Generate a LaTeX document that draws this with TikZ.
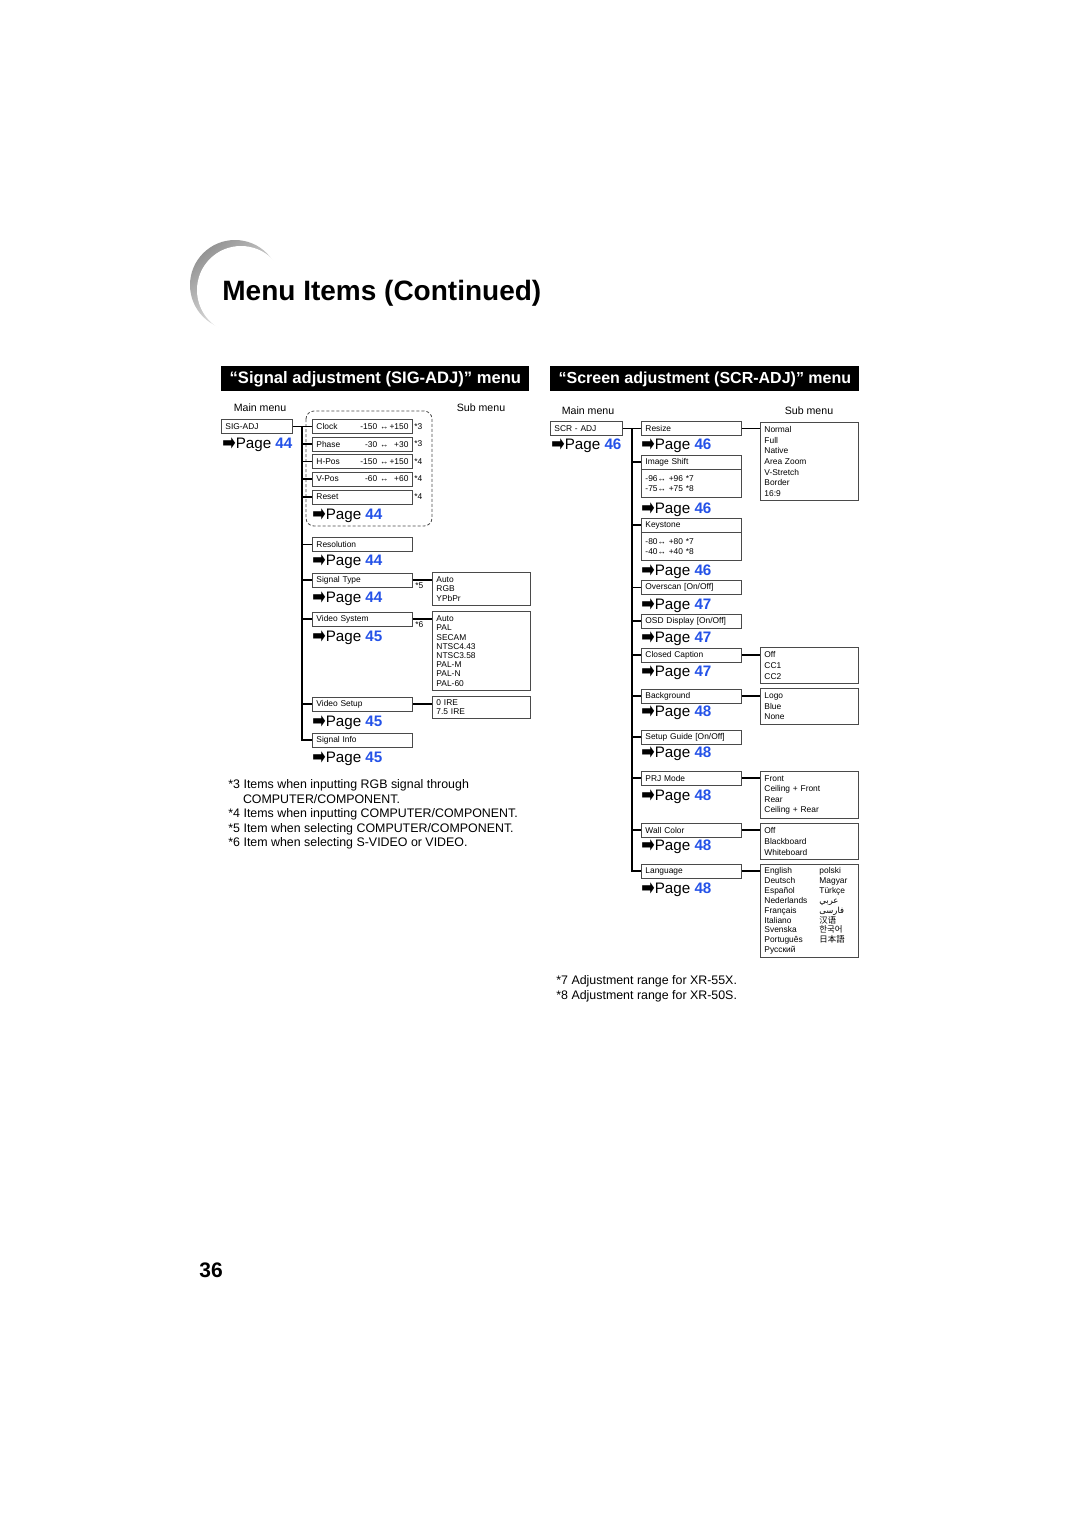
\documentclass[tikz,border=0pt]{standalone}
\usepackage{fontspec}
\setmainfont{Liberation Sans}
\newfontfamily\arrowfont{DejaVu Sans}
\newfontfamily\arabicfont[Script=Arabic]{DejaVu Sans}
\newfontfamily\cjksc{Noto Sans CJK SC}
\newfontfamily\cjkkr{Noto Sans CJK KR}
\newfontfamily\cjkjp{Noto Sans CJK JP}
\TeXXeTstate=1
\usetikzlibrary{positioning}

\definecolor{pageblue}{HTML}{2452E8}
\definecolor{boxline}{HTML}{4A4A4A}

\newcommand{\boxfont}{\fontsize{4.2}{4.6}\selectfont}
\newcommand{\gopage}[1]{{\arrowfont\raisebox{-1.1pt}{\scalebox{1.05}[1.5]{➡}}}Page \textcolor{pageblue}{\textbf{#1}}}
\newcommand{\range}[2]{#1 ↔\makebox[10pt][r]{#2}}

\begin{document}
\begin{tikzpicture}[
			x=0.5pt, y=-0.5pt,
			node distance=0pt,
			item/.style={
					draw=boxline,
					line width=0.45pt,
					minimum height=7pt,
					text width=46pt,
					inner xsep=2pt,
					inner ysep=0pt,
					align=left,
					anchor=west,
					font=\boxfont
				},
			mainbox/.style={item, text width=31.5pt},
			rangebox/.style={item, minimum height=14pt, font=\fontsize{4.2}{5}\selectfont},
			subbox/.style={
					draw=boxline,
					line width=0.45pt,
					text width=45pt,
					inner xsep=2pt,
					inner ysep=0.5pt,
					align=left,
					anchor=north west,
					font=\boxfont
				},
			rsub/.style={subbox, font=\fontsize{4.2}{5.3}\selectfont},
			pagelink/.style={anchor=base west, inner sep=0pt, font=\fontsize{7.6}{8}\selectfont},
			notemark/.style={anchor=west, inner sep=0pt, font=\boxfont},
			caption/.style={inner sep=0pt, font=\fontsize{5.3}{6}\selectfont},
			header/.style={
					fill=black,
					text=white,
					anchor=north west,
					minimum height=12.5pt,
					inner sep=0pt,
					font=\fontsize{8.3}{9}\selectfont\bfseries
				},
			footnote/.style={anchor=north west, align=left, inner sep=0pt, font=\fontsize{6.2}{7.25}\selectfont},
			trunk/.style={draw=black, line width=0.6pt}
		]

		\fill[white] (0,0) rectangle (1080,1527);
		\useasboundingbox (0,0) rectangle (1080,1527);

		% Title
		\shade[top color=black!42, bottom color=white, shading angle=40] (235,285) circle[radius=22.5pt];
		\fill[white] (241,290) circle[radius=22pt];
		\node[anchor=base west, inner sep=0pt, font=\fontsize{14}{16}\selectfont\bfseries] (title) at (222,300) {Menu Items (Continued)};

		% Headers
		\node[header, minimum width=154pt] (sighead) at (221,366) {“Signal adjustment (SIG-ADJ)” menu};
		\node[header, minimum width=154.5pt, font=\fontsize{8}{9}\selectfont\bfseries] (scrhead) at (550,366) {“Screen adjustment (SCR-ADJ)” menu};

		\node[caption] (sigmain) at (260,408) {Main menu};
		\node[caption] (sigsub) at (481,408) {Sub menu};
		\node[caption] (scrmain) at (588,411) {Main menu};
		\node[caption] (scrsub) at (809,411) {Sub menu};

		% SIG-ADJ nodes
		\node[mainbox] (sigadj) at (221,426.5) {SIG-ADJ};
		\node[pagelink] (sigadjpg) at (222,448.5) {\gopage{44}};

		\node[item] (clock) at (312,426.5) {Clock\hfill\range{-150}{+150}};
		\node[item] (phase) at (312,444) {Phase\hfill\range{-30}{+30}};
		\node[item] (hpos) at (312,461.5) {H-Pos\hfill\range{-150}{+150}};
		\node[item] (vpos) at (312,479) {V-Pos\hfill\range{-60}{+60}};
		\node[item] (reset) at (312,497) {Reset};
		\node[pagelink] (resetpg) at (312,519.5) {\gopage{44}};
		\node[notemark] (m3a) at (414,426.5) {*3};
		\node[notemark] (m3b) at (414,444) {*3};
		\node[notemark] (m4a) at (414,461.5) {*4};
		\node[notemark] (m4b) at (414,479) {*4};
		\node[notemark] (m4c) at (414,497) {*4};
		\draw[dash pattern=on 1.5pt off 1pt, line width=0.4pt, draw=boxline, rounded corners=4pt] (306,411) rectangle (432,526);

		\node[item] (resolution) at (312,544.5) {Resolution};
		\node[pagelink] (resolutionpg) at (312,565.5) {\gopage{44}};

		\node[item] (sigtype) at (312,580) {Signal Type};
		\node[pagelink] (sigtypepg) at (312,602.5) {\gopage{44}};
		\node[notemark] (m5) at (415,585.5) {*5};
		\node[subbox, minimum height=16.5pt] (sigtypesub) at (432,572) {Auto\\RGB\\YPbPr};

		\node[item] (vidsys) at (312,619) {Video System};
		\node[pagelink] (vidsyspg) at (312,641.5) {\gopage{45}};
		\node[notemark] (m6) at (415,624.5) {*6};
		\node[subbox, minimum height=39.5pt] (vidsyssub) at (432,611) {Auto\\PAL\\SECAM\\NTSC4.43\\NTSC3.58\\PAL-M\\PAL-N\\PAL-60};

		\node[item] (vidsetup) at (312,704) {Video Setup};
		\node[pagelink] (vidsetuppg) at (312,726.5) {\gopage{45}};
		\node[subbox, minimum height=11pt] (vidsetupsub) at (432,696) {0 IRE\\7.5 IRE};

		\node[item] (siginfo) at (312,740) {Signal Info};
		\node[pagelink] (siginfopg) at (312,762.5) {\gopage{45}};

		% SIG-ADJ lines
		\coordinate (ltrunk) at (302,426.5);
		\draw[trunk] (sigadj.east) -- (clock.west);
		\draw[trunk] (ltrunk) |- (siginfo.west);
		\foreach \n in {phase,hpos,vpos,reset,resolution,sigtype,vidsys,vidsetup}
		\draw[trunk] (\n.west -| ltrunk) -- (\n.west);
		\foreach \n in {sigtype,vidsys,vidsetup}
		\draw[trunk] (\n.east) -- (\n.east -| \n sub.west);

		% SCR-ADJ nodes
		\node[mainbox, text width=32pt] (scradj) at (550,428.5) {SCR - ADJ};
		\node[pagelink] (scradjpg) at (551,449.5) {\gopage{46}};

		\node[item] (resize) at (641,428.5) {Resize};
		\node[pagelink] (resizepg) at (641,449.5) {\gopage{46}};
		\node[rsub, minimum height=39pt] (resizesub) at (760,422) {Normal\\Full\\Native\\Area Zoom\\V-Stretch\\Border\\16:9};

		\node[item] (imgshift) at (641,462) {Image Shift};
		\node[rangebox, below=of imgshift] (imgshiftrange) {-96↔ +96 *7\\-75↔ +75 *8};
		\node[pagelink] (imgshiftpg) at (641,513.5) {\gopage{46}};

		\node[item] (keystone) at (641,525) {Keystone};
		\node[rangebox, below=of keystone] (keystonerange) {-80↔ +80 *7\\-40↔ +40 *8};
		\node[pagelink] (keystonepg) at (641,575.5) {\gopage{46}};

		\node[item] (overscan) at (641,587.5) {Overscan [On/Off]};
		\node[pagelink] (overscanpg) at (641,609.5) {\gopage{47}};

		\node[item] (osd) at (641,621) {OSD Display [On/Off]};
		\node[pagelink] (osdpg) at (641,642.5) {\gopage{47}};

		\node[item] (closedcap) at (641,655) {Closed Caption};
		\node[pagelink] (closedcappg) at (641,676.5) {\gopage{47}};
		\node[rsub, minimum height=18pt, font=\fontsize{4.2}{5.5}\selectfont] (closedcapsub) at (760,647) {Off\\CC1\\CC2};

		\node[item] (background) at (641,696) {Background};
		\node[pagelink] (backgroundpg) at (641,716.5) {\gopage{48}};
		\node[rsub, minimum height=18pt] (backgroundsub) at (760,688) {Logo\\Blue\\None};

		\node[item] (setupguide) at (641,737) {Setup Guide [On/Off]};
		\node[pagelink] (setupguidepg) at (641,757.5) {\gopage{48}};

		\node[item] (prjmode) at (641,778) {PRJ Mode};
		\node[pagelink] (prjmodepg) at (641,800.5) {\gopage{48}};
		\node[rsub, minimum height=23.5pt] (prjmodesub) at (760,771) {Front\\Ceiling + Front\\Rear\\Ceiling + Rear};

		\node[item] (wallcolor) at (641,830) {Wall Color};
		\node[pagelink] (wallcolorpg) at (641,850.5) {\gopage{48}};
		\node[rsub, minimum height=18pt] (wallcolorsub) at (760,823) {Off\\Blackboard\\Whiteboard};

		\node[item] (language) at (641,871) {Language};
		\node[pagelink] (languagepg) at (641,893.5) {\gopage{48}};
		\node[rsub, minimum height=46.5pt, font=\fontsize{4.2}{4.95}\selectfont] (languagesub) at (760,864) {%
			\makebox[27.5pt][l]{English}polski\\
			\makebox[27.5pt][l]{Deutsch}Magyar\\
			\makebox[27.5pt][l]{Español}Türkçe\\
			\makebox[27.5pt][l]{Nederlands}{\arabicfont\beginR عربي\endR}\\
			\makebox[27.5pt][l]{Français}{\arabicfont\beginR فارسی\endR}\\
			\makebox[27.5pt][l]{Italiano}{\cjksc 汉语}\\
			\makebox[27.5pt][l]{Svenska}{\cjkkr 한국어}\\
			\makebox[27.5pt][l]{Português}{\cjkjp 日本語}\\
			Русский};

		% SCR-ADJ lines
		\coordinate (rtrunk) at (632,428.5);
		\draw[trunk] (scradj.east) -- (resize.west);
		\draw[trunk] (rtrunk) |- (language.west);
		\foreach \n in {imgshift,keystone,overscan,osd,closedcap,background,setupguide,prjmode,wallcolor}
		\draw[trunk] (\n.west -| rtrunk) -- (\n.west);
		\foreach \n in {resize,closedcap,background,prjmode,wallcolor,language}
		\draw[trunk] (\n.east) -- (\n.east -| \n sub.west);

		% Footnotes
		\node[footnote] (signotes) at (228,779.5) {*3 Items when inputting RGB signal through\\
			\hspace*{7.3pt}COMPUTER/COMPONENT.\\
			*4 Items when inputting COMPUTER/COMPONENT.\\
			*5 Item when selecting COMPUTER/COMPONENT.\\
			*6 Item when selecting S-VIDEO or VIDEO.};
		\node[footnote] (scrnotes) at (556,975.5) {*7 Adjustment range for XR-55X.\\
			*8 Adjustment range for XR-50S.};

		\node[anchor=base west, inner sep=0pt, font=\fontsize{10.5}{12}\selectfont\bfseries] (pagenum) at (199,1277.5) {36};

	\end{tikzpicture}
\end{document}
